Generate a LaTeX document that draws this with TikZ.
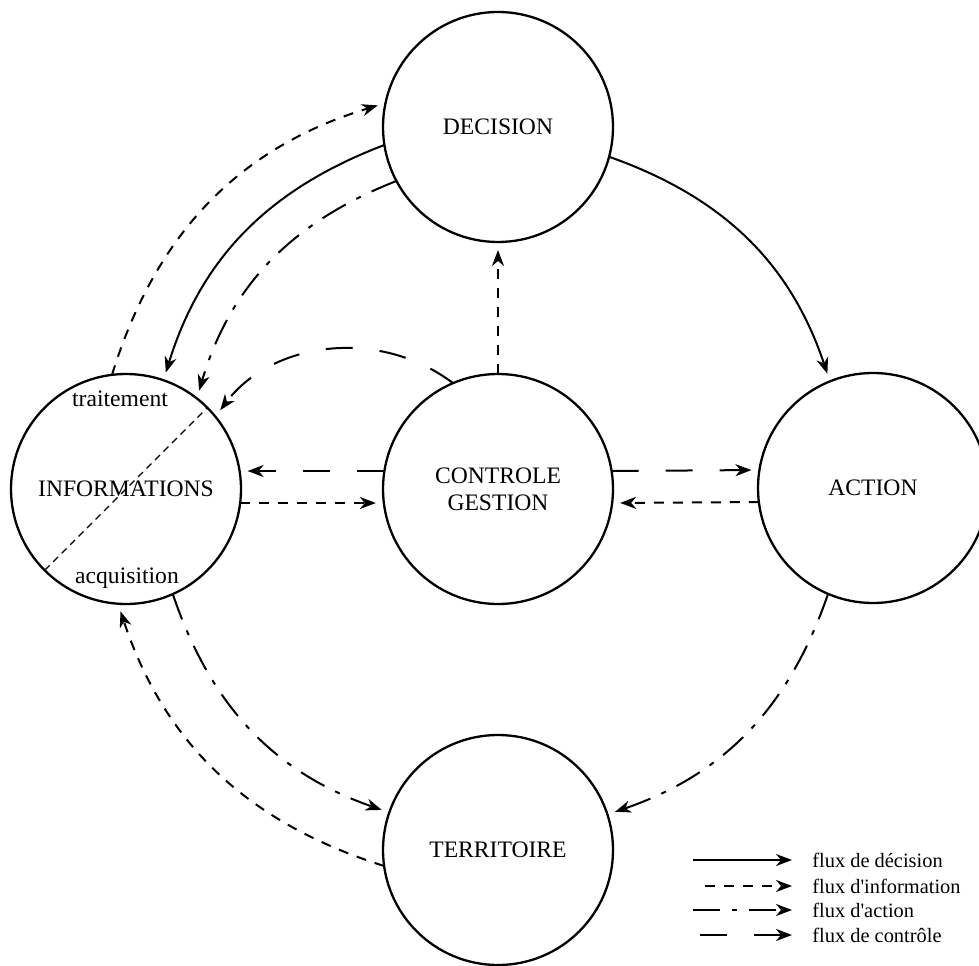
\documentclass[tikz,border=0pt]{standalone}
\usepackage{fontspec}
\setmainfont{Liberation Serif}
\usetikzlibrary{arrows.meta,calc}
\tikzset{
 blob/.style={circle, draw, line width=1.15pt, minimum size=115pt, inner sep=0pt, outer sep=0pt, align=center, font=\fontsize{11.8}{13.5}\selectfont},
 flow/.style={line width=1pt, -{Stealth[length=8pt,width=6pt,inset=2.5pt]}, shorten >=4pt},
 fdec/.style={flow},
 finfo/.style={flow, dash pattern=on 5pt off 4.5pt},
 fact/.style={flow, dash pattern=on 13.5pt off 6pt on 2.5pt off 6pt},
 fctl/.style={flow, dash pattern=on 13.5pt off 13.5pt},
 split/.style={line width=0.55pt, dash pattern=on 3.5pt off 2.5pt},
 lbl/.style={font=\fontsize{11.8}{13.5}\selectfont, inner sep=0pt},
 leg/.style={font=\fontsize{10.2}{12}\selectfont, anchor=west, inner sep=0pt},
}
\begin{document}
\begin{tikzpicture}[x=0.5pt,y=0.5pt]
\useasboundingbox (0,0) rectangle (979,965);
% nodes
\node[blob] (dec) at (498,838) {DECISION};
\node[blob] (info) at (126,476) {INFORMATIONS};
\node[blob] (ctl) at (498,476) {CONTROLE\\GESTION};
\node[blob] (act) at (873,477) {ACTION};
\node[blob] (ter) at (498,115) {TERRITOIRE};
\node[lbl] (trt) at ($(info.center)+(-6,90)$) {traitement};
\node[lbl] (acq) at ($(info.center)+(1,-89)$) {acquisition};
\draw[split] (info.225) -- (info.45);
% connectors
\draw[fdec] (dec.-15.5) to[bend left=26] (act.112);
\draw[fdec] (dec.189) to[bend right=26] (info.71);
\draw[fact] (dec.208) to[bend right=26] (info.52);
\draw[finfo] (info.97) to[bend left=28] (dec.168);
\draw[fctl] (ctl.113) to[bend right=45] (info.39);
\draw[finfo] (ctl.north) -- (dec.south);
\draw[fctl] (ctl.171) -- (info.9);
\draw[finfo] (info.-7) -- (ctl.187);
\draw[fctl] (ctl.9) -- (act.171);
\draw[finfo] (act.187) -- (ctl.-7);
\draw[fact] (act.247) to[bend left=26] (ter.18);
\draw[fact] (info.-66.5) to[bend right=26] (ter.161);
\draw[finfo] (ter.188) to[bend left=27] (info.266);
% legend
\coordinate (l1a) at (693,105); \coordinate (l1b) at (792,105);
\coordinate (l2a) at (705,79);  \coordinate (l2b) at (792,79);
\coordinate (l3a) at (693,55);  \coordinate (l3b) at (792,55);
\coordinate (l4a) at (700,30);  \coordinate (l4b) at (792,30);
\draw[fdec, shorten >=0pt] (l1a) -- (l1b);
\draw[finfo, shorten >=0pt] (l2a) -- (l2b);
\draw[fact, shorten >=0pt] (l3a) -- (l3b);
\draw[fctl, shorten >=0pt] (l4a) -- (l4b);
\node[leg] (t1) at (812,105) {flux de décision};
\node[leg] (t2) at (812,79) {flux d\textquotesingle information};
\node[leg] (t3) at (812,55) {flux d\textquotesingle action};
\node[leg] (t4) at (812,30) {flux de contrôle};
\end{tikzpicture}
\end{document}
